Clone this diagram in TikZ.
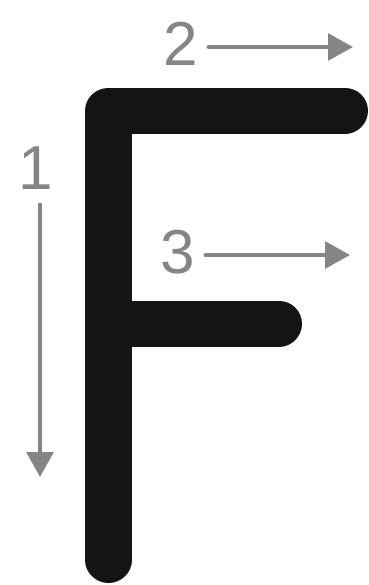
\documentclass[tikz,border=0pt]{standalone}
\usepackage{fontspec}
\setmainfont{Liberation Sans}
\usetikzlibrary{arrows.meta}
\definecolor{inkF}{rgb}{0.08,0.08,0.08}
\definecolor{guide}{rgb}{0.52,0.52,0.52}

\begin{document}
\begin{tikzpicture}[x=0.03cm, y=-0.03cm, >={Triangle[length=0.75cm,width=0.8cm]}, line cap=round]
\useasboundingbox (0,0) rectangle (369,585);
% 字母 F
\draw[inkF, line width=1.38cm, line join=round] (108.5,560) -- (108.5,110.5) -- (345,110.5);
\draw[inkF, line width=1.38cm] (108.5,323.5) -- (279,323.5);
% 笔顺编号
\node[guide, font=\fontsize{53}{53}\selectfont, inner sep=0pt] (n1) at (36,168) {1};
\node[guide, font=\fontsize{53}{53}\selectfont, inner sep=0pt] (n2) at (181,44) {2};
\node[guide, font=\fontsize{53}{53}\selectfont, inner sep=0pt] (n3) at (178,252) {3};
% 笔顺箭头
\coordinate (e1) at (40,477);
\coordinate (e2) at (353,47);
\coordinate (e3) at (350,255);
\draw[guide, line width=3.4pt, ->] ([yshift=-0.45cm]n1.south -| e1) -- (e1);
\draw[guide, line width=3.4pt, ->] ([xshift=0.3cm]n2.east |- e2) -- (e2);
\draw[guide, line width=3.4pt, ->] ([xshift=0.3cm]n3.east |- e3) -- (e3);
\end{tikzpicture}
\end{document}
